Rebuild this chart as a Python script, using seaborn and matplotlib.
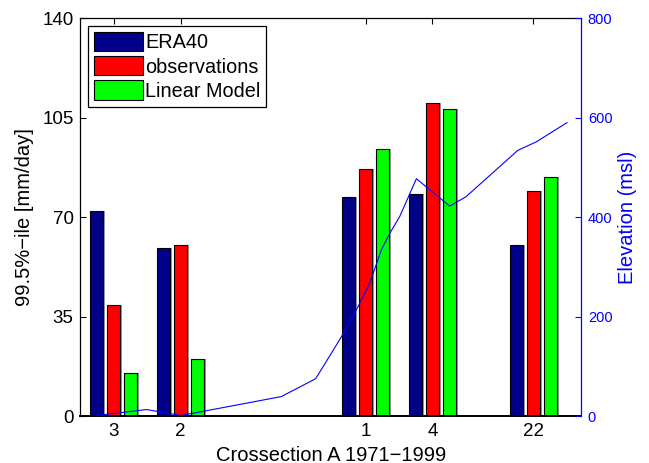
import matplotlib
matplotlib.use("Agg")
import matplotlib.pyplot as plt
import matplotlib.patheffects as pe
from matplotlib.patches import Patch
import pandas as pd
import seaborn as sns

# Station labels and their positions along the cross-section
stations = ["3", "2", "1", "4", "22"]
station_pos = [1.0, 3.0, 8.55, 10.55, 13.58]

# 99.5th percentile of daily precipitation [mm/day]
era40 = [72, 59, 77, 78, 60]
observations = [39, 60, 87, 110, 79]
linear_model = [15, 20, 94, 108, 84]

series_names = ["ERA40", "observations", "Linear Model"]
series_colors = ["#000088", "#ff0000", "#00ff00"]

# Terrain profile along the cross-section (m above sea level)
elev_x = [0.49, 1.98, 3.01, 6.02, 7.05, 7.52, 7.82, 8.32, 8.67, 9.02,
          9.27, 9.57, 10.07, 11.07, 11.56, 13.11, 13.66, 14.59]
elev_m = [1, 13, 1, 39, 75, 126, 159, 220, 267, 334,
          367, 401, 477, 422, 441, 534, 551, 590]

sns.set_style("ticks")
plt.rcParams["font.family"] = ["Liberation Sans", "DejaVu Sans"]
plt.rcParams.update({
    "text.color": "black",
    "axes.labelcolor": "black",
    "xtick.color": "black",
    "ytick.color": "black",
})

rows = []
for name, vals in zip(series_names, [era40, observations, linear_model]):
    for p, v in zip(station_pos, vals):
        rows.append({"pos": p, "value": v, "series": name})
df = pd.DataFrame(rows)
elev_df = pd.DataFrame({"x": elev_x, "elev": elev_m})

fig = plt.figure(figsize=(6.49, 4.63), dpi=100)
ax = fig.add_axes([0.124, 0.1015, 0.771, 0.8595])

sns.barplot(data=df, x="pos", y="value", hue="series", hue_order=series_names,
            palette=dict(zip(series_names, series_colors)), saturation=1,
            native_scale=True, width=0.765, gap=0.22, errorbar=None,
            edgecolor="black", linewidth=0.8, legend=False, ax=ax)

for patch in ax.patches:
    patch.set_path_effects([
        pe.SimplePatchShadow(offset=(1.1, 0), shadow_rgbFace=(0.6, 0.6, 0.6), alpha=1.0),
        pe.Normal(),
    ])

ax.set_xlim(0, 15)
ax.set_ylim(0, 140)
ax.set_yticks([0, 35, 70, 105, 140])
ax.set_xticks(station_pos)
ax.set_xticklabels(stations)
ax.tick_params(axis="both", direction="in", length=4.5, width=0.8,
               labelsize=13.5, top=True, right=False, pad=5, colors="black")
ax.set_xlabel("Crossection A 1971\u22121999", fontsize=14.5, labelpad=4)
ax.set_ylabel("99.5%\u2212ile [mm/day]", fontsize=14.5, labelpad=6)
for side in ["left", "top", "bottom"]:
    ax.spines[side].set_color("black")
    ax.spines[side].set_linewidth(0.9)
ax.spines["bottom"].set_linewidth(1.4)
ax.spines["right"].set_visible(False)

handles = [Patch(facecolor=c, edgecolor="black", linewidth=0.8, label=n)
           for n, c in zip(series_names, series_colors)]
leg = ax.legend(handles=handles, loc="upper left", fontsize=14.3,
                fancybox=False, edgecolor="black", framealpha=1,
                handlelength=2.45, handleheight=1.1, handletextpad=0.1,
                labelspacing=0.2, borderpad=0.3, borderaxespad=0.4)
leg.get_frame().set_linewidth(0.9)

ax2 = ax.twinx()
sns.lineplot(data=elev_df, x="x", y="elev", color="#0000ff", linewidth=0.8,
             ax=ax2, sort=False)
ax2.set_ylim(0, 800)
ax2.set_yticks([0, 200, 400, 600, 800])
ax2.set_xlim(0, 15)
ax2.tick_params(axis="y", direction="in", length=4.5, width=0.8,
                labelsize=10.5, colors="#0000ff", pad=5)
ax2.set_ylabel("Elevation (msl)", fontsize=14.5, color="#0000ff", labelpad=4)
ax2.set_xlabel("")
for side in ["left", "top", "bottom"]:
    ax2.spines[side].set_visible(False)
ax2.spines["right"].set_color("#0000ff")
ax2.spines["right"].set_linewidth(0.9)

fig.savefig("out.png", dpi=100)
